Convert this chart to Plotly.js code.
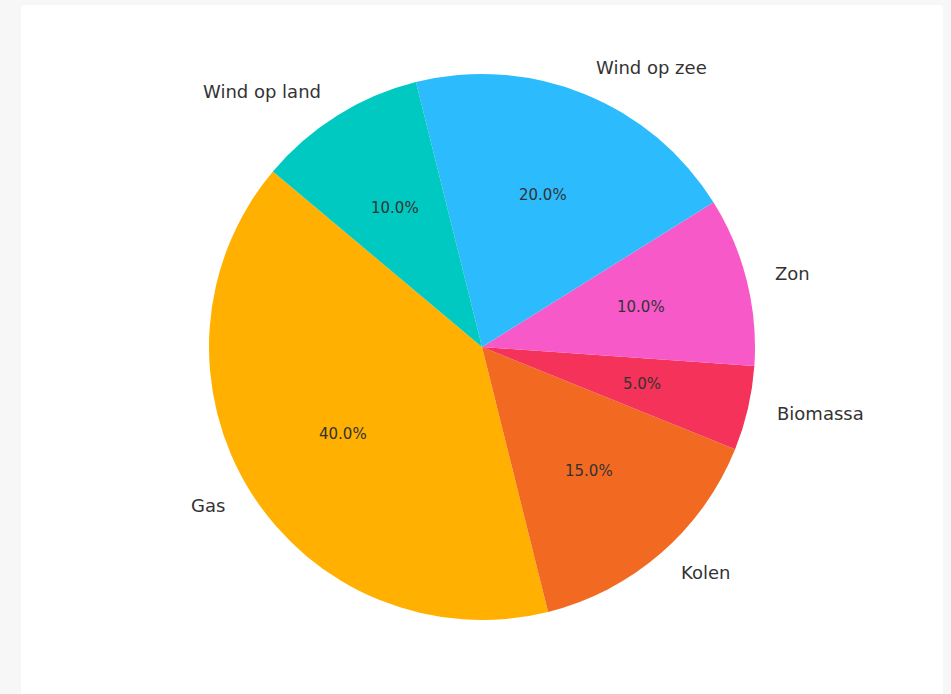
<!DOCTYPE html>
<html>
<head>
<meta charset="utf-8">
<script src="https://cdn.plot.ly/plotly-3.0.1.min.js"></script>
<style>
  html, body { margin: 0; padding: 0; background: #f7f7f7; overflow: hidden; }
  #card { position: absolute; left: 21px; top: 5px; width: 922px; height: 700px;
          background: #ffffff; border-radius: 4px; }
  #chart { width: 922px; height: 689px; }
</style>
</head>
<body>
<div id="card"><div id="chart"></div></div>
<script>
// ---- data ----
const labels = ["Gas", "Kolen", "Biomassa", "Zon", "Wind op zee", "Wind op land"];
const values = [40, 15, 5, 10, 20, 10];
const colors = ["#FFB000", "#F26A21", "#F53259", "#F75AC8", "#2CBBFD", "#00C9C1"];
const startAngle = 140; // degrees, counterclockwise from 3 o'clock (first slice start)

// ---- layout constants ----
const W = 922, H = 689;
const cx = 461, cy = 342, R = 273;
const fontFamily = "DejaVu Sans, Verdana, sans-serif";
const textColor = "#333333";

const total = values.reduce((a, b) => a + b, 0);
// Plotly rotation (clockwise from 12 o'clock) for counterclockwise direction:
// boundary between first and second slice.
let rot = 90 - (startAngle + 360 * values[0] / total);
while (rot <= -360) rot += 360;
while (rot > 360) rot -= 360;

const trace = {
  type: "pie",
  labels: labels,
  values: values,
  sort: false,
  direction: "counterclockwise",
  rotation: rot,
  marker: { colors: colors, line: { width: 0 } },
  textinfo: "none",
  hoverinfo: "skip",
  showlegend: false,
  domain: {
    x: [(cx - R) / W, (cx + R) / W],
    y: [1 - (cy + R) / H, 1 - (cy - R) / H]
  }
};

// label and percentage annotations, placed from the data (like matplotlib: labels at 1.1r, pct at 0.6r)
const annotations = [];
let acc = 0;
values.forEach((v, i) => {
  const mid = (startAngle + 360 * (acc + v / 2) / total) * Math.PI / 180;
  acc += v;
  const lx = cx + 1.1 * R * Math.cos(mid);
  const ly = cy - 1.1 * R * Math.sin(mid) - 1;
  annotations.push({
    x: lx / W, y: 1 - ly / H, xref: "paper", yref: "paper",
    text: labels[i], showarrow: false,
    xanchor: Math.cos(mid) > 0 ? "left" : "right", yanchor: "middle",
    font: { family: fontFamily, size: 18, color: textColor }
  });
  const px = cx + 0.6 * R * Math.cos(mid);
  const py = cy - 0.6 * R * Math.sin(mid);
  annotations.push({
    x: px / W, y: 1 - py / H, xref: "paper", yref: "paper",
    text: (100 * v / total).toFixed(1) + "%", showarrow: false,
    xanchor: "center", yanchor: "middle",
    font: { family: fontFamily, size: 15, color: textColor }
  });
});

const layout = {
  width: W, height: H,
  margin: { l: 0, r: 0, t: 0, b: 0 },
  paper_bgcolor: "rgba(0,0,0,0)",
  plot_bgcolor: "rgba(0,0,0,0)",
  annotations: annotations,
  showlegend: false
};

Plotly.newPlot("chart", [trace], layout, { displayModeBar: false, staticPlot: true });
</script>
</body>
</html>
